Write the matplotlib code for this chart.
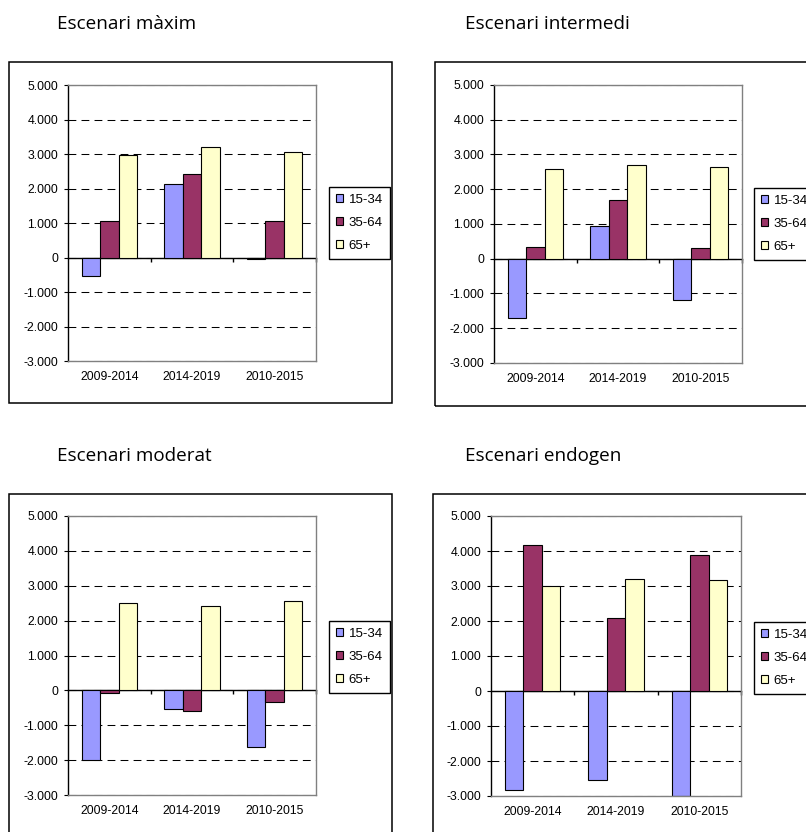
import matplotlib
matplotlib.use('Agg')
import matplotlib.pyplot as plt
from matplotlib.patches import Rectangle

W, H = 806, 832

categories = ['2009-2014', '2014-2019', '2010-2015']
age_groups = ['15-34', '35-64', '65+']
ytick_vals = [-3000, -2000, -1000, 0, 1000, 2000, 3000, 4000, 5000]
ytick_labels = ['-3.000', '-2.000', '-1.000', '0', '1.000', '2.000', '3.000', '4.000', '5.000']

maxim_1534 = [-530, 2120, -30]
maxim_3564 = [1070, 2420, 1070]
maxim_65 = [2980, 3210, 3070]

intermedi_1534 = [-1710, 930, -1180]
intermedi_3564 = [350, 1690, 320]
intermedi_65 = [2580, 2690, 2650]

moderat_1534 = [-1990, -520, -1630]
moderat_3564 = [-70, -590, -320]
moderat_65 = [2500, 2410, 2570]

endogen_1534 = [-2830, -2540, -2990]
endogen_3564 = [4170, 2100, 3880]
endogen_65 = [3000, 3200, 3170]

colors = ['#9999FF', '#993366', '#FFFFCC']

# pixel layout: box, plot area, title anchor, legend anchor
panels = [
    ('Escenari màxim', [maxim_1534, maxim_3564, maxim_65],
     (9, 62, 392, 403), (68, 85, 316, 361), (57, 29), (329, 187)),
    ('Escenari intermedi', [intermedi_1534, intermedi_3564, intermedi_65],
     (435, 62, 830, 406), (494, 85, 742, 363), (465, 29), (754, 188)),
    ('Escenari moderat', [moderat_1534, moderat_3564, moderat_65],
     (9, 494, 392, 850), (68, 516, 316, 795), (57, 461), (329, 621)),
    ('Escenari endogen', [endogen_1534, endogen_3564, endogen_65],
     (433, 494, 830, 850), (491, 516, 741, 796), (465, 461), (754, 622)),
]

fig = plt.figure(figsize=(W / 100, H / 100), dpi=100)
fig.patch.set_facecolor('white')

def frac(x0, y0, x1, y1):
    return [x0 / W, 1 - y1 / H, (x1 - x0) / W, (y1 - y0) / H]

tick_font = dict(family='Liberation Sans', size=8.8)
bw = 1 / 4.5

for title, series, box, area, tpos, lpos in panels:
    bx = frac(*box)
    fig.patches.append(Rectangle((bx[0], bx[1]), bx[2], bx[3], transform=fig.transFigure,
                                 fill=False, edgecolor='black', lw=1.1, zorder=0))
    fig.text(tpos[0] / W, 1 - tpos[1] / H, title, family='Open Sans', fontsize=13.6,
             ha='left', va='baseline')

    ax = fig.add_axes(frac(*area))
    xs = [i + 0.5 for i in range(len(categories))]
    handles = []
    for k, vals in enumerate(series):
        b = ax.bar([x + (k - 1) * bw for x in xs], vals, width=bw, color=colors[k],
                   edgecolor='black', linewidth=0.8, label=age_groups[k], zorder=2)
        handles.append(b)

    ax.set_xlim(0, 3)
    ax.set_ylim(-3000, 5000)
    ax.set_yticks(ytick_vals)
    ax.set_yticklabels(ytick_labels, **tick_font)
    ax.set_xticks(xs)
    ax.set_xticklabels(categories, **tick_font)
    ax.tick_params(axis='x', length=0, pad=7)
    ax.tick_params(axis='y', length=3, pad=4, direction='out', color='black')
    ax.set_axisbelow(True)
    ax.yaxis.grid(True, linestyle=(0, (7.5, 5)), color='black', lw=0.75)
    for s in ['top', 'right', 'bottom']:
        ax.spines[s].set_color('#808080')
        ax.spines[s].set_linewidth(1)
    ax.spines['left'].set_color('black')
    ax.spines['left'].set_linewidth(1)

    zero = ax.secondary_xaxis(3000 / 8000)
    zero.set_xticks([1, 2, 3])
    zero.set_xticklabels([])
    zero.tick_params(length=3, direction='out', color='black', width=1)
    zero.spines['bottom'].set_color('black')
    zero.spines['bottom'].set_linewidth(1)

    fig.legend(handles, age_groups, loc='upper left',
               bbox_to_anchor=(lpos[0] / W, 1 - lpos[1] / H), bbox_transform=fig.transFigure,
               borderaxespad=0, frameon=True, fancybox=False, framealpha=1,
               edgecolor='black', prop=dict(family='Liberation Sans', size=9.5),
               handlelength=0.55, handleheight=0.55, handletextpad=0.45,
               borderpad=0.5, labelspacing=0.85)

fig.savefig('out.png', dpi=100)
